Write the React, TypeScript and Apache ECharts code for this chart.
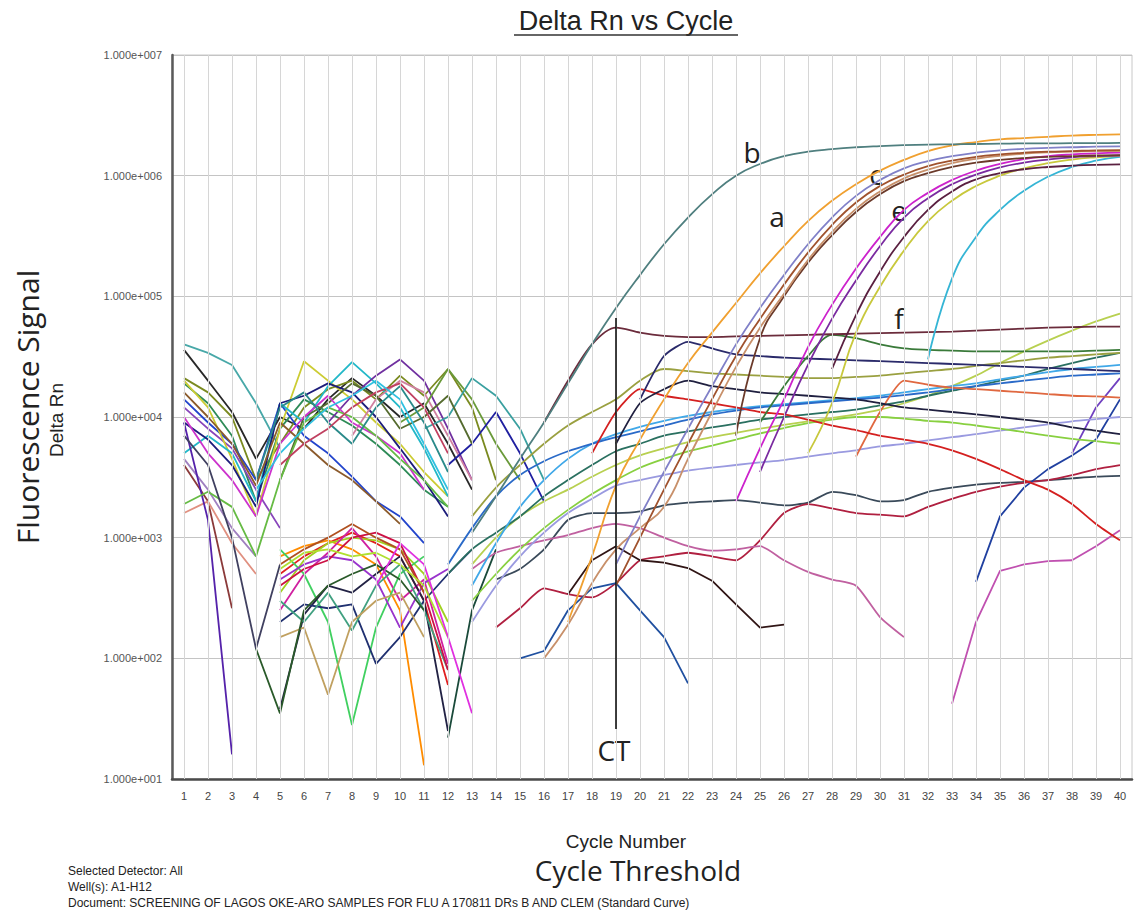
import { useEffect, useRef } from "react";
import * as echarts from "echarts";

const cycleLabels = ["1","2","3","4","5","6","7","8","9","10","11","12","13","14","15","16","17","18","19","20","21","22","23","24","25","26","27","28","29","30","31","32","33","34","35","36","37","38","39","40"];

// ---- amplification (sigmoid) curves: start cycle + values ----
const curveB = [1100, 2200, 4500, 9000, 19000, 40000, 80000, 150000, 270000, 450000, 700000, 1000000, 1250000, 1450000, 1580000, 1660000, 1720000, 1760000, 1790000, 1810000, 1820000, 1830000, 1840000, 1850000, 1850000, 1860000, 1860000, 1870000];
const curveA = [200, 700, 2700, 6500, 14000, 28000, 50000, 88000, 155000, 260000, 420000, 620000, 850000, 1100000, 1350000, 1600000, 1780000, 1900000, 2000000, 2050000, 2100000, 2150000, 2180000, 2200000];
const curveC = [600, 1500, 3500, 8000, 18000, 40000, 80000, 150000, 270000, 450000, 680000, 920000, 1150000, 1320000, 1450000, 1550000, 1620000, 1670000, 1700000, 1720000, 1740000, 1750000];
const curveBrown = [400, 1000, 2500, 6000, 14000, 32000, 65000, 125000, 230000, 390000, 600000, 820000, 1020000, 1200000, 1330000, 1430000, 1500000, 1550000, 1580000, 1600000, 1620000, 1630000];
const curveTan = [100, 190, 420, 800, 1200, 1800, 4500, 11000, 26000, 55000, 105000, 200000, 340000, 530000, 740000, 950000, 1120000, 1270000, 1380000, 1460000, 1520000, 1560000, 1580000, 1600000, 1600000];
const curveDarkBrown = [7000, 45000, 100000, 190000, 320000, 500000, 700000, 900000, 1050000, 1180000, 1280000, 1350000, 1400000, 1430000, 1450000, 1470000, 1480000];
const curveE = [2000, 5500, 14000, 38000, 85000, 170000, 310000, 520000, 720000, 920000, 1100000, 1250000, 1370000, 1450000, 1500000, 1530000, 1550000];
const curvePurple = [3500, 10000, 27000, 65000, 135000, 260000, 450000, 650000, 850000, 1020000, 1170000, 1280000, 1360000, 1420000, 1450000, 1470000];
const curvePlum = [25000, 70000, 160000, 310000, 520000, 740000, 930000, 1050000, 1130000, 1180000, 1210000, 1230000, 1240000];
const curveYellow = [5000, 13000, 50000, 120000, 240000, 420000, 620000, 820000, 1000000, 1150000, 1270000, 1360000, 1420000, 1460000];
const curveCyan = [30000, 140000, 310000, 520000, 750000, 980000, 1180000, 1330000, 1430000];

// ---- plateau / drifting curves ----
const curveF = [9000, 20000, 40000, 55000, 50000, 47000, 46000, 46000, 46500, 47000, 47500, 48000, 48500, 49000, 49500, 50000, 50500, 51000, 52000, 53000, 54000, 55000, 55500, 56000, 56000];
const curveGreen = [9000, 18000, 32000, 48000, 45000, 40000, 37000, 36000, 35500, 35000, 35000, 35000, 35000, 35000, 35500, 36000];
const curveNavy = [14000, 32000, 42000, 37000, 33000, 32000, 31000, 30500, 30000, 29500, 29000, 28500, 28000, 27500, 27000, 26500, 26000, 25500, 25000, 24500, 24000];
const curveNavy2 = [6000, 13000, 17000, 20000, 18000, 17000, 16000, 15500, 15000, 14500, 14000, 13000, 12000, 11500, 11000, 10500, 10000, 9500, 9000, 8200, 7700, 7200];
const curveRed = [5000, 11000, 17000, 15000, 14000, 13000, 12000, 11000, 10500, 9500, 8500, 7800, 7000, 6500, 6000, 5300, 4500, 3700, 3000, 2500, 1900, 1300, 950];
const curveSalmon = [4700, 11000, 20000, 18500, 17500, 17000, 16500, 16000, 15500, 15000, 14800, 14500];
const curveOlive = [1500, 2600, 4000, 6000, 8500, 11000, 14000, 20000, 25000, 24000, 23000, 22500, 22000, 21500, 21000, 21000, 21500, 22000, 23000, 24000, 25000, 26500, 28000, 29500, 31000, 32000, 33000, 34000];
const curveBlue = [600, 1200, 2200, 3300, 4300, 5200, 6000, 6800, 7600, 8500, 9500, 10500, 11300, 12000, 12500, 13000, 13500, 14000, 14500, 15200, 16000, 17000, 18000, 19000, 20000, 21000, 22000, 22500, 23000];
const curveLightBlue = [400, 900, 1800, 3000, 4500, 6000, 7200, 8300, 9300, 10200, 11000, 11700, 12300, 12800, 13300, 13800, 14300, 15000, 16000, 17000, 18000, 19000, 20500, 22000, 23500, 25000, 26000, 27000];
const curveTeal = [500, 800, 1100, 1500, 2200, 3000, 4000, 5200, 6000, 7000, 7600, 8200, 8800, 9500, 10000, 10500, 11000, 11500, 12500, 13500, 15000, 16500, 18000, 20000, 22000, 25000, 28000, 31000, 34000];
const curveLightGreen = [300, 500, 800, 1200, 1700, 2300, 3000, 3800, 4500, 5200, 5800, 6500, 7300, 8100, 8900, 9500, 10000, 10000, 9700, 9300, 9000, 8500, 8000, 7500, 7000, 6600, 6300, 6000];
const curveYellowGreen = [600, 1000, 1500, 2000, 2500, 3200, 4000, 4800, 5500, 6200, 6800, 7400, 8000, 8600, 9200, 9800, 10500, 11500, 13000, 15000, 18000, 22000, 28000, 35000, 43000, 52000, 62000, 72000];
const curveLavender = [200, 400, 700, 1100, 1600, 2100, 2700, 3000, 3300, 3600, 3800, 4000, 4200, 4400, 4700, 5000, 5300, 5700, 6000, 6400, 6800, 7200, 7700, 8200, 8700, 9200, 9600, 10000];
const curveSlate = [450, 550, 800, 1400, 1600, 1600, 1650, 1850, 1950, 2000, 2050, 1950, 1850, 1950, 2400, 2250, 2000, 2050, 2400, 2600, 2750, 2850, 2900, 3000, 3100, 3200, 3250];
const curveCrimson = [180, 260, 380, 340, 320, 420, 650, 700, 750, 700, 650, 950, 1600, 1900, 1750, 1600, 1550, 1500, 1800, 2100, 2400, 2650, 2850, 3000, 3300, 3700, 4000];
const curvePink = [550, 750, 850, 950, 1050, 1200, 1300, 1200, 1000, 850, 780, 800, 850, 650, 520, 450, 400, 220, 150];
const curveBlackShort = [340, 650, 850, 650, 620, 560, 440, 280, 180, 190];
const curveBlueShort = [100, 115, 250, 380, 420, 250, 150, 62];
const curveBlueLate = [430, 1500, 2600, 3700, 4800, 6500, 14000];
const curvePurpleLate = [5000, 12000, 21000];
const curveViolet = [42, 200, 530, 600, 640, 650, 850, 1150];

// ---- early-cycle noise (upper cluster) ----
const noiseU1 = [40000, 34000, 27000, 13000, 5500];
const noiseU2 = [36000, 20000, 11000, 4500, 10000, 8000, 14000, 21000, 15000, 10000, 13000, 6000, 2500];
const noiseU3 = [21000, 16000, 10000, 3000, 6000, 12000, 17000, 20000, 14000, 22000, 15000, 25000, 12000, 3000];
const noiseU4 = [19000, 13000, 7000, 2000, 8000, 14000, 11000, 8500, 6000, 4000, 2500, 1800];
const noiseU5 = [14000, 9000, 6000, 3000, 13000, 7000, 5000, 3200, 2000, 1500, 900];
const noiseU6 = [12000, 8000, 5500, 2500, 1200];
const noiseU7 = [20000, 12000, 4500, 1500, 8000, 29000, 20000, 14000, 9000, 6000, 3500, 2200];
const noiseU8 = [5000, 7000, 5000, 2000, 13000, 9000, 18000, 28500, 19000, 12000, 5500, 2200];
const noiseU9 = [9000, 6500, 4000, 1800, 13000, 15000, 19000, 16000, 10000, 5500, 3000, 1500];
const noiseU10 = [9000, 15000, 22000, 30000, 20000, 8000, 3000];
const noiseU11 = [7000, 14000, 20000, 16000, 7000, 3000];
const noiseU12 = [9000, 12000, 25000, 14000, 6000, 3000];
const noiseU13 = [8000, 10000, 21000, 15000, 8000, 3000];
const noiseU14 = [4000, 6000, 11000, 5000, 2000];
const noiseU15 = [3000, 10000, 13000, 19000, 15000, 8000, 10000, 15000, 6000];
const noiseU16 = [4000, 2000, 260];
const noiseU17 = [1600, 2000, 900, 500];
const noiseU18 = [4500, 2500, 1200, 700];
const noiseU19 = [10000, 5000, 3000, 1500, 6000, 10000, 15000, 9000, 7000, 5000, 2500];
const noiseU20 = [9000, 1400, 16];
const noiseU21 = [1900, 2400, 1800, 700, 3000, 9000, 12000, 10000, 7000, 4500, 3000, 1800];
const noiseU22 = [7000, 4000, 1000, 120, 600];
const noiseU23 = [16000, 10000, 6000, 2700, 9000, 6000, 4000, 3000, 2000, 1300];
const noiseU24 = [3000, 12000, 16000, 9000, 6000, 12000, 18000, 9000, 3500];
const noiseU25 = [4000, 6000, 8000, 12000, 16000, 19000, 12000, 5000];
const noiseU26 = [2500, 5000, 8000, 12000, 15000, 20000, 14000, 6000, 2500];

// ---- early-cycle noise (lower cluster) ----
const noiseL1 = [500, 700, 900, 1100, 900, 700, 300, 60];
const noiseL2 = [700, 850, 950, 800, 600, 250, 13];
const noiseL3 = [350, 650, 900, 1000, 950, 800, 500, 200];
const noiseL4 = [250, 500, 750, 1200, 700, 300, 450, 90];
const noiseL5 = [800, 500, 200, 28, 180, 500, 700];
const noiseL6 = [38, 230, 400, 350, 500, 700, 300, 25];
const noiseL7 = [450, 600, 700, 650, 450, 180, 420, 550];
const noiseL8 = [200, 280, 260, 280, 90, 150, 300, 500, 800];
const noiseL9 = [300, 200, 350, 170, 400, 600, 250, 80];
const noiseL10 = [150, 180, 50, 200, 300, 350, 150];
const noiseL11 = [400, 550, 650, 1000, 1100, 900, 350, 80];
const noiseL12 = [120, 35, 250, 400, 500, 600, 450, 250];
const noiseL13 = [600, 800, 1000, 1300, 1000, 800, 350];
const noiseL14 = [550, 750, 800, 700, 750, 600, 400, 150];
const noiseL15 = [22, 250, 800];
const noiseL16 = [400, 900, 600, 150, 35];

// CT marker line (cycle 19)
const ctCycleIndex = 18;
const ctTop = 66000;
const ctBottom = 26;

// table: [values, start cycle, colour, smooth]
const table: [number[], number, string, number][] = [
  [noiseU1, 1, "#48a8a8", 0], [noiseU2, 1, "#282828", 0], [noiseU3, 1, "#7a8a20", 0],
  [noiseU4, 1, "#2e8b57", 0], [noiseU5, 1, "#2244cc", 0], [noiseU6, 1, "#8844bb", 0],
  [noiseU7, 1, "#cccc33", 0], [noiseU8, 1, "#22b8c8", 0], [noiseU9, 1, "#1c1c7a", 0],
  [noiseU10, 7, "#7030a0", 0], [noiseU11, 8, "#d080a0", 0], [noiseU12, 10, "#6a9a3a", 0],
  [noiseU13, 11, "#3aa0a0", 0], [noiseU14, 12, "#2020a0", 0], [noiseU15, 5, "#556b2f", 0],
  [noiseU16, 1, "#8b3a3a", 0], [noiseU17, 1, "#e09080", 0], [noiseU18, 1, "#a080c0", 0],
  [noiseU19, 1, "#cc33cc", 0], [noiseU20, 1, "#5522aa", 0], [noiseU21, 1, "#66bb44", 0],
  [noiseU22, 1, "#404060", 0], [noiseU23, 1, "#8b5a2b", 0], [noiseU24, 4, "#2a8a8a", 0],
  [noiseU25, 5, "#c04060", 0], [noiseU26, 4, "#30c0e0", 0],
  [noiseL1, 5, "#e02020", 0], [noiseL2, 5, "#ff8c00", 0], [noiseL3, 5, "#a0d020", 0],
  [noiseL4, 5, "#d020a0", 0], [noiseL5, 5, "#40d060", 0], [noiseL6, 5, "#222244", 0],
  [noiseL7, 5, "#9933cc", 0], [noiseL8, 5, "#203070", 0], [noiseL9, 5, "#40a080", 0],
  [noiseL10, 5, "#c0a060", 0], [noiseL11, 5, "#cc1144", 0], [noiseL12, 4, "#2a5a2a", 0],
  [noiseL13, 5, "#b05020", 0], [noiseL14, 5, "#b0e030", 0], [noiseL15, 12, "#1a4a3a", 0],
  [noiseL16, 9, "#e030e0", 0],
  [curveSlate, 14, "#3a4a5a", 0.2], [curveCrimson, 14, "#b02040", 0.2], [curvePink, 13, "#c060a0", 0.2],
  [curveBlackShort, 17, "#301515", 0], [curveBlueShort, 15, "#2050a0", 0], [curveBlueLate, 34, "#2040a0", 0],
  [curvePurpleLate, 38, "#7040c0", 0], [curveViolet, 33, "#c050b0", 0],
  [curveLavender, 13, "#9a9ae0", 0.3], [curveLightGreen, 13, "#88d040", 0.3], [curveYellowGreen, 13, "#b8d050", 0.3],
  [curveTeal, 12, "#2a7060", 0.3], [curveLightBlue, 13, "#40a8e8", 0.3], [curveBlue, 12, "#2a6ac8", 0.3],
  [curveOlive, 13, "#9aa040", 0.3], [curveSalmon, 29, "#e06840", 0.2], [curveRed, 18, "#d42020", 0.2],
  [curveNavy2, 19, "#202040", 0.2], [curveNavy, 20, "#2a2a6a", 0.2], [curveGreen, 25, "#3a7a3a", 0.3],
  [curveF, 16, "#6b2c3c", 0.3],
  [curveCyan, 32, "#35b5d5", 0.5], [curveYellow, 27, "#c8c83c", 0.5], [curvePlum, 28, "#5a2040", 0.5],
  [curvePurple, 25, "#7a2aa0", 0.5], [curveE, 24, "#cc22cc", 0.5], [curveDarkBrown, 24, "#6b3a2a", 0.5],
  [curveTan, 16, "#c8906a", 0.5], [curveBrown, 19, "#a0522d", 0.5], [curveC, 19, "#8080c8", 0.5],
  [curveA, 17, "#f0a030", 0.5], [curveB, 13, "#4f7f7f", 0.5],
];

function place(start: number, values: number[]) {
  const out: (number | null)[] = cycleLabels.map(() => null);
  values.forEach((v, i) => {
    out[start - 1 + i] = v;
  });
  return out;
}

const annoFont = '28px "Open Sans"';

export default function App() {
  const ref = useRef<HTMLDivElement>(null);
  useEffect(() => {
    if (!ref.current) return;
    const chart = echarts.init(ref.current, undefined, { renderer: "svg" });
    const series: any[] = [
      {
        type: "line",
        data: cycleLabels.map(() => null),
        z: 1,
        silent: true,
        markLine: {
          silent: true,
          symbol: ["none", "none"],
          label: { show: false },
          lineStyle: { color: "#d6d6d6", width: 1, type: "solid" },
          data: cycleLabels.map((c) => ({ xAxis: c })),
        },
      },
    ];
    table.forEach(([vals, start, color, smooth]) => {
      series.push({
        type: "line",
        data: place(start, vals),
        symbol: "none",
        smooth: smooth || false,
        connectNulls: false,
        silent: true,
        z: 3,
        lineStyle: { color, width: 1.8 },
        itemStyle: { color },
      });
    });
    series.push({
      type: "line",
      data: [
        [ctCycleIndex, ctTop],
        [ctCycleIndex, ctBottom],
      ],
      symbol: "none",
      silent: true,
      z: 5,
      lineStyle: { color: "#111111", width: 1.6 },
    });

    const txt = (x: number, y: number, text: string, font: string, extra: any = {}) => ({
      type: "text",
      x,
      y,
      silent: true,
      ...extra,
      style: {
        text,
        font,
        fill: "#222222",
        textAlign: extra.align || "center",
        textVerticalAlign: "middle",
        align: extra.align || "center",
        verticalAlign: "middle",
      },
    });

    chart.setOption({
      animation: false,
      backgroundColor: "#ffffff",
      grid: { left: 172, top: 55, width: 960, height: 724, show: true, borderColor: "#c8c8c8", borderWidth: 1 },
      xAxis: {
        type: "category",
        data: cycleLabels,
        boundaryGap: true,
        axisLine: { show: true, lineStyle: { color: "#4a4a4a", width: 2.5 } },
        axisTick: { show: false },
        splitLine: { show: false },
        axisLabel: { interval: 0, fontSize: 11, color: "#444444", margin: 11, fontFamily: "Liberation Sans" },
      },
      yAxis: {
        type: "log",
        logBase: 10,
        min: 10,
        max: 10000000,
        axisLine: { show: true, lineStyle: { color: "#5a5a5a", width: 2.5 } },
        axisTick: { show: false },
        splitLine: { show: true, lineStyle: { color: "#c4c4c4", width: 1 } },
        axisLabel: {
          fontSize: 11,
          color: "#555555",
          margin: 10,
          fontFamily: "Liberation Sans",
          formatter: (v: number) => "1.000e+" + String(Math.round(Math.log10(v))).padStart(3, "0"),
        },
      },
      series,
      graphic: [
        txt(626, 21, "Delta Rn vs Cycle", '27px "Liberation Sans"'),
        { type: "line", silent: true, shape: { x1: 514, y1: 35, x2: 738, y2: 35 }, style: { stroke: "#333333", lineWidth: 1.5 } },
        txt(27, 407, "Fluorescence Signal", '30px "Open Sans"', { rotation: Math.PI / 2 }),
        txt(56, 420, "Delta Rn", '19px "Liberation Sans"', { rotation: Math.PI / 2 }),
        txt(626, 841, "Cycle Number", '19px "Liberation Sans"'),
        txt(638, 870, "Cycle Threshold", '28px "Open Sans"'),
        txt(68, 871, "Selected Detector: All", '12px "Liberation Sans"', { align: "left" }),
        txt(68, 887, "Well(s): A1-H12", '12px "Liberation Sans"', { align: "left" }),
        txt(68, 903, "Document: SCREENING OF LAGOS OKE-ARO SAMPLES FOR FLU A 170811 DRs B AND CLEM (Standard Curve)", '12px "Liberation Sans"', { align: "left" }),
        txt(752, 152, "b", annoFont),
        txt(876, 174, "c", annoFont),
        txt(777, 216, "a", annoFont),
        txt(899, 210, "e", annoFont),
        txt(899, 318, "f", annoFont),
        txt(614, 750, "CT", annoFont),
      ],
    });
    return () => chart.dispose();
  }, []);
  return <div ref={ref} style={{ position: "absolute", left: 0, top: 0, width: 1134, height: 918 }} />;
}
